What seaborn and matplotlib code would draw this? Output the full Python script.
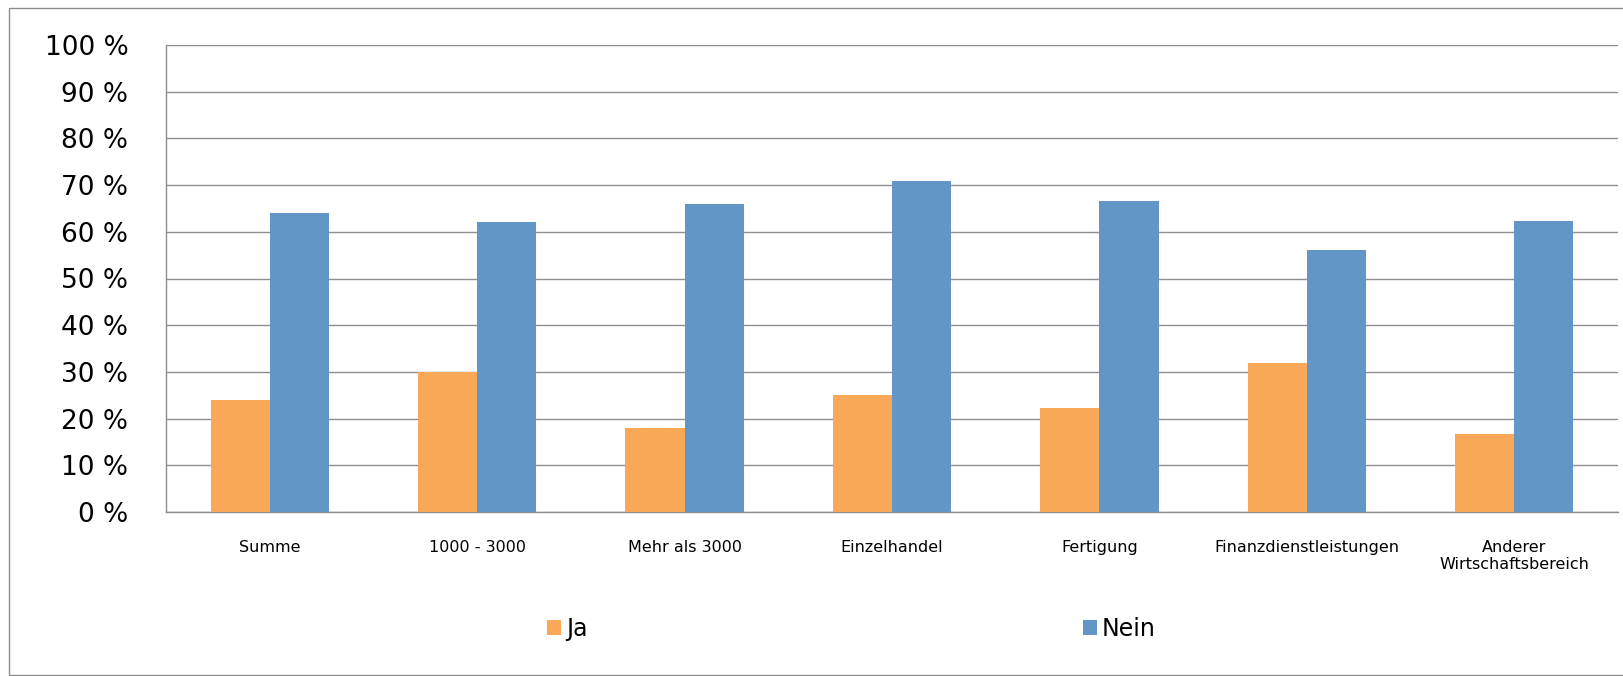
import matplotlib
matplotlib.use("Agg")
import matplotlib.pyplot as plt
import seaborn as sns
import pandas as pd
from matplotlib.patches import Rectangle
from matplotlib.ticker import FixedLocator

categories = ["Summe", "1000 - 3000", "Mehr als 3000", "Einzelhandel",
              "Fertigung", "Finanzdienstleistungen", "Anderer\nWirtschaftsbereich"]
ja_values = [24, 30, 18, 25, 22.2, 32, 16.6]
nein_values = [64, 62, 66, 70.8, 66.6, 56, 62.4]
series_names = ["Ja", "Nein"]
y_ticks = [0, 10, 20, 30, 40, 50, 60, 70, 80, 90, 100]
y_tick_labels = [f"{v} %" for v in y_ticks]

colors = ["#F9A858", "#6196C7"]
grid_color = "#8E8E8E"

df = pd.DataFrame({
    "Kategorie": categories * 2,
    "Wert": ja_values + nein_values,
    "Antwort": [series_names[0]] * len(categories) + [series_names[1]] * len(categories),
})

sns.set_style("white")
plt.rcParams["font.family"] = ["DejaVu Sans"]
plt.rcParams["text.color"] = "#000000"
plt.rcParams["xtick.labelcolor"] = "#000000"
plt.rcParams["ytick.labelcolor"] = "#000000"

fig = plt.figure(figsize=(16.24, 6.76), dpi=100)
ax = fig.add_axes([166 / 1624, 1 - 512 / 676, (1618 - 166) / 1624, (512 - 45) / 676])

sns.barplot(data=df, x="Kategorie", y="Wert", hue="Antwort", order=categories,
            hue_order=series_names, palette=colors, saturation=1, width=0.57,
            linewidth=0, ax=ax, legend=True, zorder=3)

ax.set_ylim(0, 100)
ax.set_xlim(-0.5, len(categories) - 0.5)
ax.set_yticks(y_ticks)
ax.set_yticklabels(y_tick_labels, fontsize=19, color="#000000")
ax.set_xticks(range(len(categories)))
ax.set_xticklabels(categories, fontsize=11.5, linespacing=1.2, color="#000000")
ax.xaxis.set_minor_locator(FixedLocator([i - 0.5 for i in range(len(categories) + 1)]))
ax.tick_params(axis="x", which="major", length=0, pad=20)
ax.tick_params(axis="x", which="minor", length=6, width=1, color=grid_color, direction="out")
ax.tick_params(axis="y", which="major", length=8, width=1, color=grid_color,
               direction="out", pad=19)
ax.set_xlabel("")
ax.set_ylabel("")
ax.grid(axis="y", color=grid_color, linewidth=1, zorder=0)
ax.set_axisbelow(True)
for side in ["top", "right"]:
    ax.spines[side].set_visible(False)
for side in ["left", "bottom"]:
    ax.spines[side].set_color(grid_color)
    ax.spines[side].set_linewidth(1)

handles, labels = ax.get_legend_handles_labels()
ax.get_legend().remove()
leg = fig.legend(handles, labels, loc="center", bbox_to_anchor=(851.5 / 1624, 1 - 629 / 676),
                 ncol=2, frameon=False, fontsize=17, handlelength=0.6, handleheight=0.6,
                 handletextpad=0.2, columnspacing=21, borderpad=0)
for t in leg.get_texts():
    t.set_color("#000000")

fig.add_artist(Rectangle((9 / 1624, 1 / 676), 1.1, 667 / 676, transform=fig.transFigure,
                         fill=False, edgecolor="#8C8C8C", linewidth=1))

fig.savefig("out.png", dpi=100, facecolor="white")
